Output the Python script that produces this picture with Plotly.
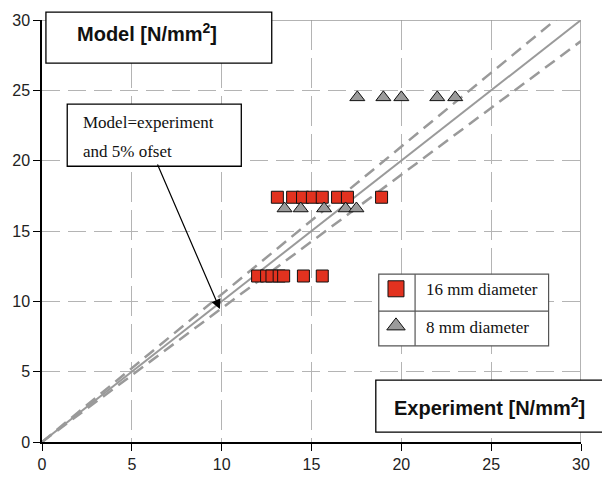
import plotly.graph_objects as go

# ---- data ----
x16 = [13.1, 13.95, 14.5, 15.05, 15.6, 16.45, 17.0, 18.9,
       12.0, 12.5, 12.8, 13.2, 13.45, 14.55, 15.6]
y16 = [17.4, 17.4, 17.4, 17.4, 17.4, 17.4, 17.4, 17.4,
       11.8, 11.8, 11.8, 11.8, 11.8, 11.8, 11.8]

x8 = [13.5, 14.4, 15.7, 16.9, 17.5, 17.55, 19.0, 20.0, 22.0, 23.0]
y8 = [16.6, 16.6, 16.6, 16.6, 16.6, 24.5, 24.5, 24.5, 24.5, 24.5]

series_names = ["16 mm diameter", "8 mm diameter"]
line_x = [0, 30]
offset = 0.05
ticks = [0, 5, 10, 15, 20, 25, 30]

GRAY = "#9a9a9a"
GRID = "#b4b4b4"
RED = "#E2321F"
TRI = "#9b9b9b"

fig = go.Figure()

# reference lines: model = experiment, +/- 5 %
fig.add_trace(go.Scatter(x=line_x, y=[v for v in line_x], mode="lines",
                         line=dict(color=GRAY, width=2), showlegend=False, hoverinfo="skip"))
fig.add_trace(go.Scatter(x=line_x, y=[v * (1 + offset) for v in line_x], mode="lines",
                         line=dict(color=GRAY, width=2.5, dash="12px,7px"), showlegend=False, hoverinfo="skip"))
fig.add_trace(go.Scatter(x=line_x, y=[v * (1 - offset) for v in line_x], mode="lines",
                         line=dict(color=GRAY, width=2.5, dash="12px,7px"), showlegend=False, hoverinfo="skip"))

fig.add_trace(go.Scatter(x=x16, y=y16, mode="markers", name=series_names[0], legendgroup="a",
                         showlegend=False,
                         marker=dict(symbol="square", size=12, color=RED,
                                     line=dict(color="#111111", width=1))))
fig.add_trace(go.Scatter(x=x8, y=y8, mode="markers", name=series_names[1], legendgroup="b",
                         showlegend=False,
                         marker=dict(symbol="triangle-up", size=13, color=TRI,
                                     line=dict(color="#111111", width=1))))
# legend-only entries (larger key symbols, as in the reference)
fig.add_trace(go.Scatter(x=[None], y=[None], mode="markers", name=series_names[0], legendgroup="a",
                         marker=dict(symbol="square", size=16, color=RED,
                                     line=dict(color="#111111", width=1))))
fig.add_trace(go.Scatter(x=[None], y=[None], mode="markers", name=series_names[1], legendgroup="b",
                         marker=dict(symbol="triangle-up", size=16, color=TRI,
                                     line=dict(color="#111111", width=1))))

L, R, T, B = 41, 12, 20, 35
W, H = 602, 485
pw, ph = W - L - R, H - T - B


def px(xp):
    return (xp - L) / pw


def py(yp):
    return (H - B - yp) / ph


shapes = [
    # frame top/right (gray)
    dict(type="line", xref="x", yref="y", x0=0, x1=30, y0=30, y1=30,
         line=dict(color=GRAY, width=1.5), layer="above"),
    dict(type="line", xref="x", yref="y", x0=30, x1=30, y0=0, y1=30,
         line=dict(color=GRAY, width=1.5), layer="above"),
    # Model box
    dict(type="rect", xref="paper", yref="paper", x0=px(45), x1=px(275), y0=py(64), y1=py(12),
         fillcolor="white", line=dict(color="black", width=1.3), layer="above"),
    # Annotation box
    dict(type="rect", xref="paper", yref="paper", x0=px(66.7), x1=px(244), y0=py(169), y1=py(105.7),
         fillcolor="white", line=dict(color="black", width=1.3), layer="above"),
    # Experiment box
    dict(type="rect", xref="paper", yref="paper", x0=px(381), x1=px(615), y0=py(440), y1=py(387),
         fillcolor="white", line=dict(color="black", width=1.3), layer="above"),
    # legend table
    dict(type="rect", xref="paper", yref="paper", x0=px(384), x1=px(557), y0=py(352), y1=py(279),
         fillcolor="white", line=dict(color="#555555", width=1.2), layer="above"),
    dict(type="line", xref="paper", yref="paper", x0=px(421), x1=px(421), y0=py(352), y1=py(279),
         line=dict(color="#555555", width=1.2), layer="above"),
    dict(type="line", xref="paper", yref="paper", x0=px(384), x1=px(557), y0=py(316.7), y1=py(316.7),
         line=dict(color="#555555", width=1.2), layer="above"),
]

annotations = [
    dict(xref="paper", yref="paper", x=px(75), y=py(33), xanchor="left", yanchor="middle",
         text="<b>Model [N/mm<sup>2</sup>]</b>", showarrow=False,
         font=dict(family="Liberation Sans, Arial", size=20, color="#111111")),
    dict(xref="paper", yref="paper", x=px(397), y=py(414), xanchor="left", yanchor="middle",
         text="<b>Experiment [N/mm<sup>2</sup>]</b>", showarrow=False,
         font=dict(family="Liberation Sans, Arial", size=20, color="#111111")),
    dict(xref="paper", yref="paper", x=px(80.7), y=py(124), xanchor="left", yanchor="middle",
         text="Model=experiment", showarrow=False,
         font=dict(family="Liberation Serif, Times New Roman", size=17, color="#111111")),
    dict(xref="paper", yref="paper", x=px(80.7), y=py(154), xanchor="left", yanchor="middle",
         text="and 5% ofset", showarrow=False,
         font=dict(family="Liberation Serif, Times New Roman", size=17, color="#111111")),
    dict(xref="x", yref="y", x=9.9, y=9.45, ax=-63, ay=-146, text="", showarrow=True,
         arrowhead=2, arrowsize=1.6, arrowwidth=1.2, arrowcolor="black"),
]

axis_common = dict(range=[0, 30], tickvals=ticks, showline=True, linecolor="black", linewidth=1.5,
                   ticks="outside", ticklen=7, tickwidth=1.2, tickcolor="black",
                   gridcolor=GRID, gridwidth=1, zeroline=False,
                   tickfont=dict(family="Liberation Sans, Arial", size=16, color="#222222"))

fig.update_layout(
    width=W, height=H,
    margin=dict(l=L, r=R, t=T, b=B),
    paper_bgcolor="white", plot_bgcolor="white",
    xaxis=dict(**axis_common, griddash="30px,8px"),
    yaxis=dict(**axis_common, griddash="18px,8px"),
    shapes=shapes,
    annotations=annotations,
    legend=dict(x=px(371), y=py(276), xanchor="left", yanchor="top",
                bgcolor="rgba(0,0,0,0)", borderwidth=0,
                tracegroupgap=12, traceorder="grouped", itemwidth=50,
                font=dict(family="Liberation Serif, Times New Roman", size=17, color="#111111")),
)

fig.write_html("out.html")
